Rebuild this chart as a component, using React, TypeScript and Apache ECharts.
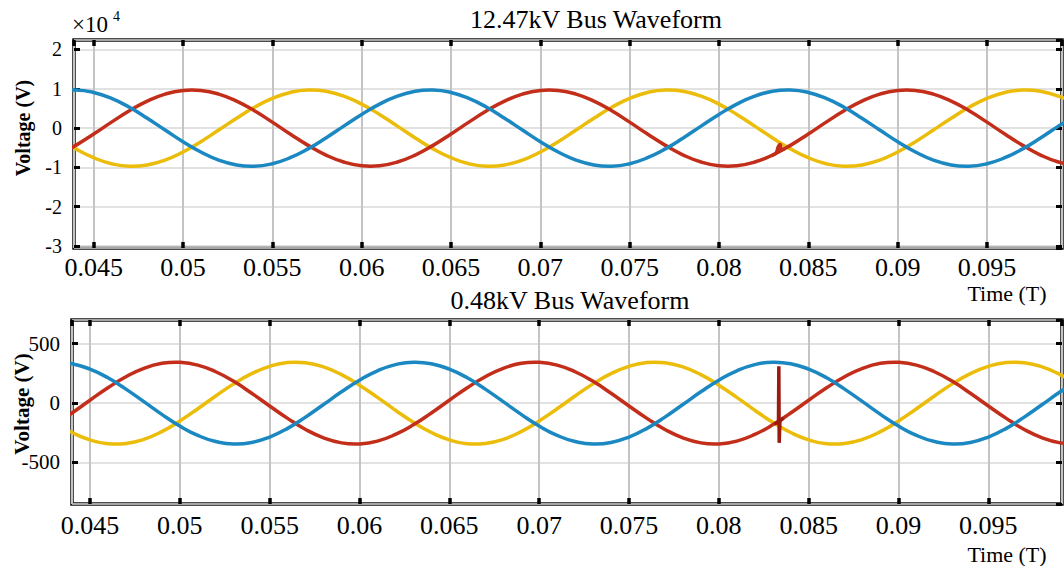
import React, { useEffect, useRef } from "react";
import * as echarts from "echarts";

// Sample times (s), 1 ms apart
const times = [
  0.042, 0.043, 0.044, 0.045, 0.046, 0.047, 0.048, 0.049, 0.05, 0.051,
  0.052, 0.053, 0.054, 0.055, 0.056, 0.057, 0.058, 0.059, 0.06, 0.061,
  0.062, 0.063, 0.064, 0.065, 0.066, 0.067, 0.068, 0.069, 0.07, 0.071,
  0.072, 0.073, 0.074, 0.075, 0.076, 0.077, 0.078, 0.079, 0.08, 0.081,
  0.082, 0.083, 0.084, 0.085, 0.086, 0.087, 0.088, 0.089, 0.09, 0.091,
  0.092, 0.093, 0.094, 0.095, 0.096, 0.097, 0.098, 0.099, 0.1,
];

// 12.47kV bus, values in units of 10^4 V
const topRed = [
  -0.864, -0.686, -0.44, -0.151, 0.151, 0.44, 0.686, 0.864, 0.958, 0.958,
  0.864, 0.686, 0.44, 0.151, -0.151, -0.44, -0.686, -0.864, -0.958, -0.958,
  -0.864, -0.686, -0.44, -0.151, 0.151, 0.44, 0.686, 0.864, 0.958, 0.958,
  0.864, 0.686, 0.44, 0.151, -0.151, -0.44, -0.686, -0.864, -0.958, -0.958,
  -0.864, -0.686, -0.44, -0.151, 0.151, 0.44, 0.686, 0.864, 0.958, 0.958,
  0.864, 0.686, 0.44, 0.151, -0.151, -0.44, -0.686, -0.864, -0.958,
];
const topYellow = [
  0.05, -0.251, -0.529, -0.754, -0.906, -0.969, -0.937, -0.814, -0.61, -0.347,
  -0.05, 0.251, 0.529, 0.754, 0.906, 0.969, 0.937, 0.814, 0.61, 0.347,
  0.05, -0.251, -0.529, -0.754, -0.906, -0.969, -0.937, -0.814, -0.61, -0.347,
  -0.05, 0.251, 0.529, 0.754, 0.906, 0.969, 0.937, 0.814, 0.61, 0.347,
  0.05, -0.251, -0.529, -0.754, -0.906, -0.969, -0.937, -0.814, -0.61, -0.347,
  -0.05, 0.251, 0.529, 0.754, 0.906, 0.969, 0.937, 0.814, 0.61,
];
const topBlue = [
  0.814, 0.937, 0.969, 0.906, 0.754, 0.529, 0.251, -0.05, -0.347, -0.61,
  -0.814, -0.937, -0.969, -0.906, -0.754, -0.529, -0.251, 0.05, 0.347, 0.61,
  0.814, 0.937, 0.969, 0.906, 0.754, 0.529, 0.251, -0.05, -0.347, -0.61,
  -0.814, -0.937, -0.969, -0.906, -0.754, -0.529, -0.251, 0.05, 0.347, 0.61,
  0.814, 0.937, 0.969, 0.906, 0.754, 0.529, 0.251, -0.05, -0.347, -0.61,
  -0.814, -0.937, -0.969, -0.906, -0.754, -0.529, -0.251, 0.05, 0.347,
];
// crest / trough points of each phase
const topRedExtT = [0.0505, 0.0605, 0.0705, 0.0805, 0.0905];
const topRedExtV = [0.97, -0.97, 0.97, -0.97, 0.97];
const topYellowExtT = [0.04717, 0.05717, 0.06717, 0.07717, 0.08717, 0.09717];
const topYellowExtV = [-0.97, 0.97, -0.97, 0.97, -0.97, 0.97];
const topBlueExtT = [0.04383, 0.05383, 0.06383, 0.07383, 0.08383, 0.09383];
const topBlueExtV = [0.97, -0.97, 0.97, -0.97, 0.97, -0.97];
// small switching hook on the red phase
const topHookTimes = [0.083, 0.0832, 0.08333, 0.08342, 0.0835, 0.0837];
const topHookValues = [-0.686, -0.63, -0.46, -0.42, -0.55, -0.52];

// 0.48kV bus, values in V
const botRed = [
  -264, -183, -83, 24, 129, 222, 293, 335, 344, 320,
  264, 183, 83, -24, -129, -222, -293, -335, -344, -320,
  -264, -183, -83, 24, 129, 222, 293, 335, 344, 320,
  264, 183, 83, -24, -129, -222, -293, -335, -344, -320,
  -264, -183, -83, 24, 129, 222, 293, 335, 344, 320,
  264, 183, 83, -24, -129, -222, -293, -335, -344,
];
const botYellow = [
  -60, -162, -248, -310, -342, -340, -305, -240, -151, -48,
  60, 162, 248, 310, 342, 340, 305, 240, 151, 48,
  -60, -162, -248, -310, -342, -340, -305, -240, -151, -48,
  60, 162, 248, 310, 342, 340, 305, 240, 151, 48,
  -60, -162, -248, -310, -342, -340, -305, -240, -151, -48,
  60, 162, 248, 310, 342, 340, 305, 240, 151,
];
const botBlue = [
  324, 345, 332, 286, 213, 118, 12, -95, -193, -272,
  -324, -345, -332, -286, -213, -118, -12, 95, 193, 272,
  324, 345, 332, 286, 213, 118, 12, -95, -193, -272,
  -324, -345, -332, -286, -213, -118, -12, 95, 193, 272,
  324, 345, 332, 286, 213, 118, 12, -95, -193, -272,
  -324, -345, -332, -286, -213, -118, -12, 95, 193,
];
const botRedExtT = [0.04978, 0.05978, 0.06978, 0.07978, 0.08978, 0.09978];
const botRedExtV = [345, -345, 345, -345, 345, -345];
const botYellowExtT = [0.04644, 0.05644, 0.06644, 0.07644, 0.08644, 0.09644];
const botYellowExtV = [-345, 345, -345, 345, -345, 345];
const botBlueExtT = [0.04311, 0.05311, 0.06311, 0.07311, 0.08311, 0.09311];
const botBlueExtV = [345, -345, 345, -345, 345, -345];
// transient spike on the red phase
const botSpikeTimes = [0.0831, 0.08332, 0.08334, 0.08336, 0.0834, 0.0836];
const botSpikeValues = [-176, -160, 310, -335, -150, -127];

const titles = ["12.47kV Bus Waveform", "0.48kV Bus Waveform"];
const yName = "Voltage (V)";
const xName = "Time (T)";

const RED = "#c22e1a";
const YELLOW = "#ebbd0a";
const BLUE = "#1b88c2";
const SERIF = "'Liberation Serif', 'Times New Roman', serif";

const pairs = (xs: number[], ys: number[]) => xs.map((x, i) => [x, ys[i]]);
const merged = (xs: number[], ys: number[], ex: number[], ey: number[]) =>
  pairs(xs, ys).concat(pairs(ex, ey)).sort((a, b) => a[0] - b[0]);

function mkX(gridIndex: number, position: string, labels: boolean, min: number, max: number, margin: number) {
  return {
    type: "value",
    gridIndex,
    position,
    min,
    max,
    splitNumber: 11,
    axisLine: { show: false, onZero: false },
    axisTick: { show: true, inside: true, length: 6, lineStyle: { color: "#000", width: 3.5 } },
    axisLabel: labels
      ? { show: true, color: "#000", fontFamily: SERIF, fontSize: 26, margin, showMinLabel: false, showMaxLabel: false }
      : { show: false },
    splitLine: labels ? { show: true, lineStyle: { color: "#c4c4c4", width: 2 } } : { show: false },
  };
}

function mkY(gridIndex: number, position: string, labels: boolean, min: number, max: number, splitNumber: number, fontSize: number) {
  return {
    type: "value",
    gridIndex,
    position,
    min,
    max,
    splitNumber,
    axisLine: { show: false, onZero: false },
    axisTick: { show: true, inside: true, length: 6, lineStyle: { color: "#000", width: 3 } },
    axisLabel: labels
      ? { show: true, color: "#000", fontFamily: SERIF, fontSize, margin: 12, showMinLabel: false, showMaxLabel: false }
      : { show: false },
    splitLine: labels ? { show: true, lineStyle: { color: "#d8d8d8", width: 1.5 } } : { show: false },
  };
}

function line(name: string, color: string, data: number[][], xi: number, yi: number, smooth: boolean, z: number) {
  return {
    type: "line",
    name,
    xAxisIndex: xi,
    yAxisIndex: yi,
    data,
    smooth,
    showSymbol: false,
    symbol: "none",
    z,
    lineStyle: { color, width: 3.5 },
  };
}

export default function App() {
  const ref = useRef<HTMLDivElement>(null);
  useEffect(() => {
    if (!ref.current) return;
    const chart = echarts.init(ref.current, undefined, { renderer: "svg" });
    const text = (t: string, x: number, y: number, size: number, align = "center", extra: any = {}, rotation = 0) => ({
      type: "text",
      x,
      y,
      rotation,
      z: 100,
      style: {
        text: t,
        fill: "#000",
        fontFamily: SERIF,
        fontSize: size,
        textAlign: align,
        align,
        textVerticalAlign: "middle",
        verticalAlign: "middle",
        ...extra,
      },
    });
    const gridBase = {
      show: true,
      borderColor: "#111",
      borderWidth: 3.5,
      backgroundColor: "transparent",
      containLabel: false,
      outerBoundsMode: "none",
    };
    chart.setOption({
      animation: false,
      backgroundColor: "#fff",
      grid: [
        { ...gridBase, left: 74, top: 40, width: 988, height: 208 },
        { ...gridBase, left: 72, top: 320, width: 990, height: 184 },
      ],
      xAxis: [
        mkX(0, "bottom", true, 0.0439, 0.0992, 6),
        mkX(0, "top", false, 0.0439, 0.0992, 6),
        mkX(1, "bottom", true, 0.044, 0.0991, 8),
        mkX(1, "top", false, 0.044, 0.0991, 8),
      ],
      yAxis: [
        mkY(0, "left", true, -3.05, 2.24, 5, 20),
        mkY(0, "right", false, -3.05, 2.24, 5, 20),
        mkY(1, "left", true, -850, 700, 3, 21),
        mkY(1, "right", false, -850, 700, 3, 21),
      ],
      graphic: [
        text(titles[0], 596, 19, 26),
        text(titles[1], 570, 300, 26),
        text("×10", 72, 24, 23, "left"),
        text("4", 113, 16, 14, "left"),
        text(xName, 1007, 293, 22),
        text(xName, 1007, 554, 22),
        text(yName, 23, 128, 20, "center", { fontWeight: "bold" }, Math.PI / 2),
        text(yName, 22, 404, 21, "center", { fontWeight: "bold" }, Math.PI / 2),
      ],
      series: [
        line("A", YELLOW, merged(times, topYellow, topYellowExtT, topYellowExtV), 0, 0, true, 2),
        line("B", RED, merged(times, topRed, topRedExtT, topRedExtV), 0, 0, true, 3),
        line("C", BLUE, merged(times, topBlue, topBlueExtT, topBlueExtV), 0, 0, true, 4),
        line("B hook", RED, pairs(topHookTimes, topHookValues), 0, 0, true, 5),
        line("A", YELLOW, merged(times, botYellow, botYellowExtT, botYellowExtV), 2, 2, true, 2),
        line("B", RED, merged(times, botRed, botRedExtT, botRedExtV), 2, 2, true, 3),
        line("C", BLUE, merged(times, botBlue, botBlueExtT, botBlueExtV), 2, 2, true, 4),
        line("B spike", "#9a1a10", pairs(botSpikeTimes, botSpikeValues), 2, 2, false, 5),
      ],
    });
    return () => chart.dispose();
  }, []);
  return (
    <div
      ref={ref}
      style={{ position: "fixed", left: 0, top: 0, width: 1064, height: 566, background: "#fff" }}
    />
  );
}
